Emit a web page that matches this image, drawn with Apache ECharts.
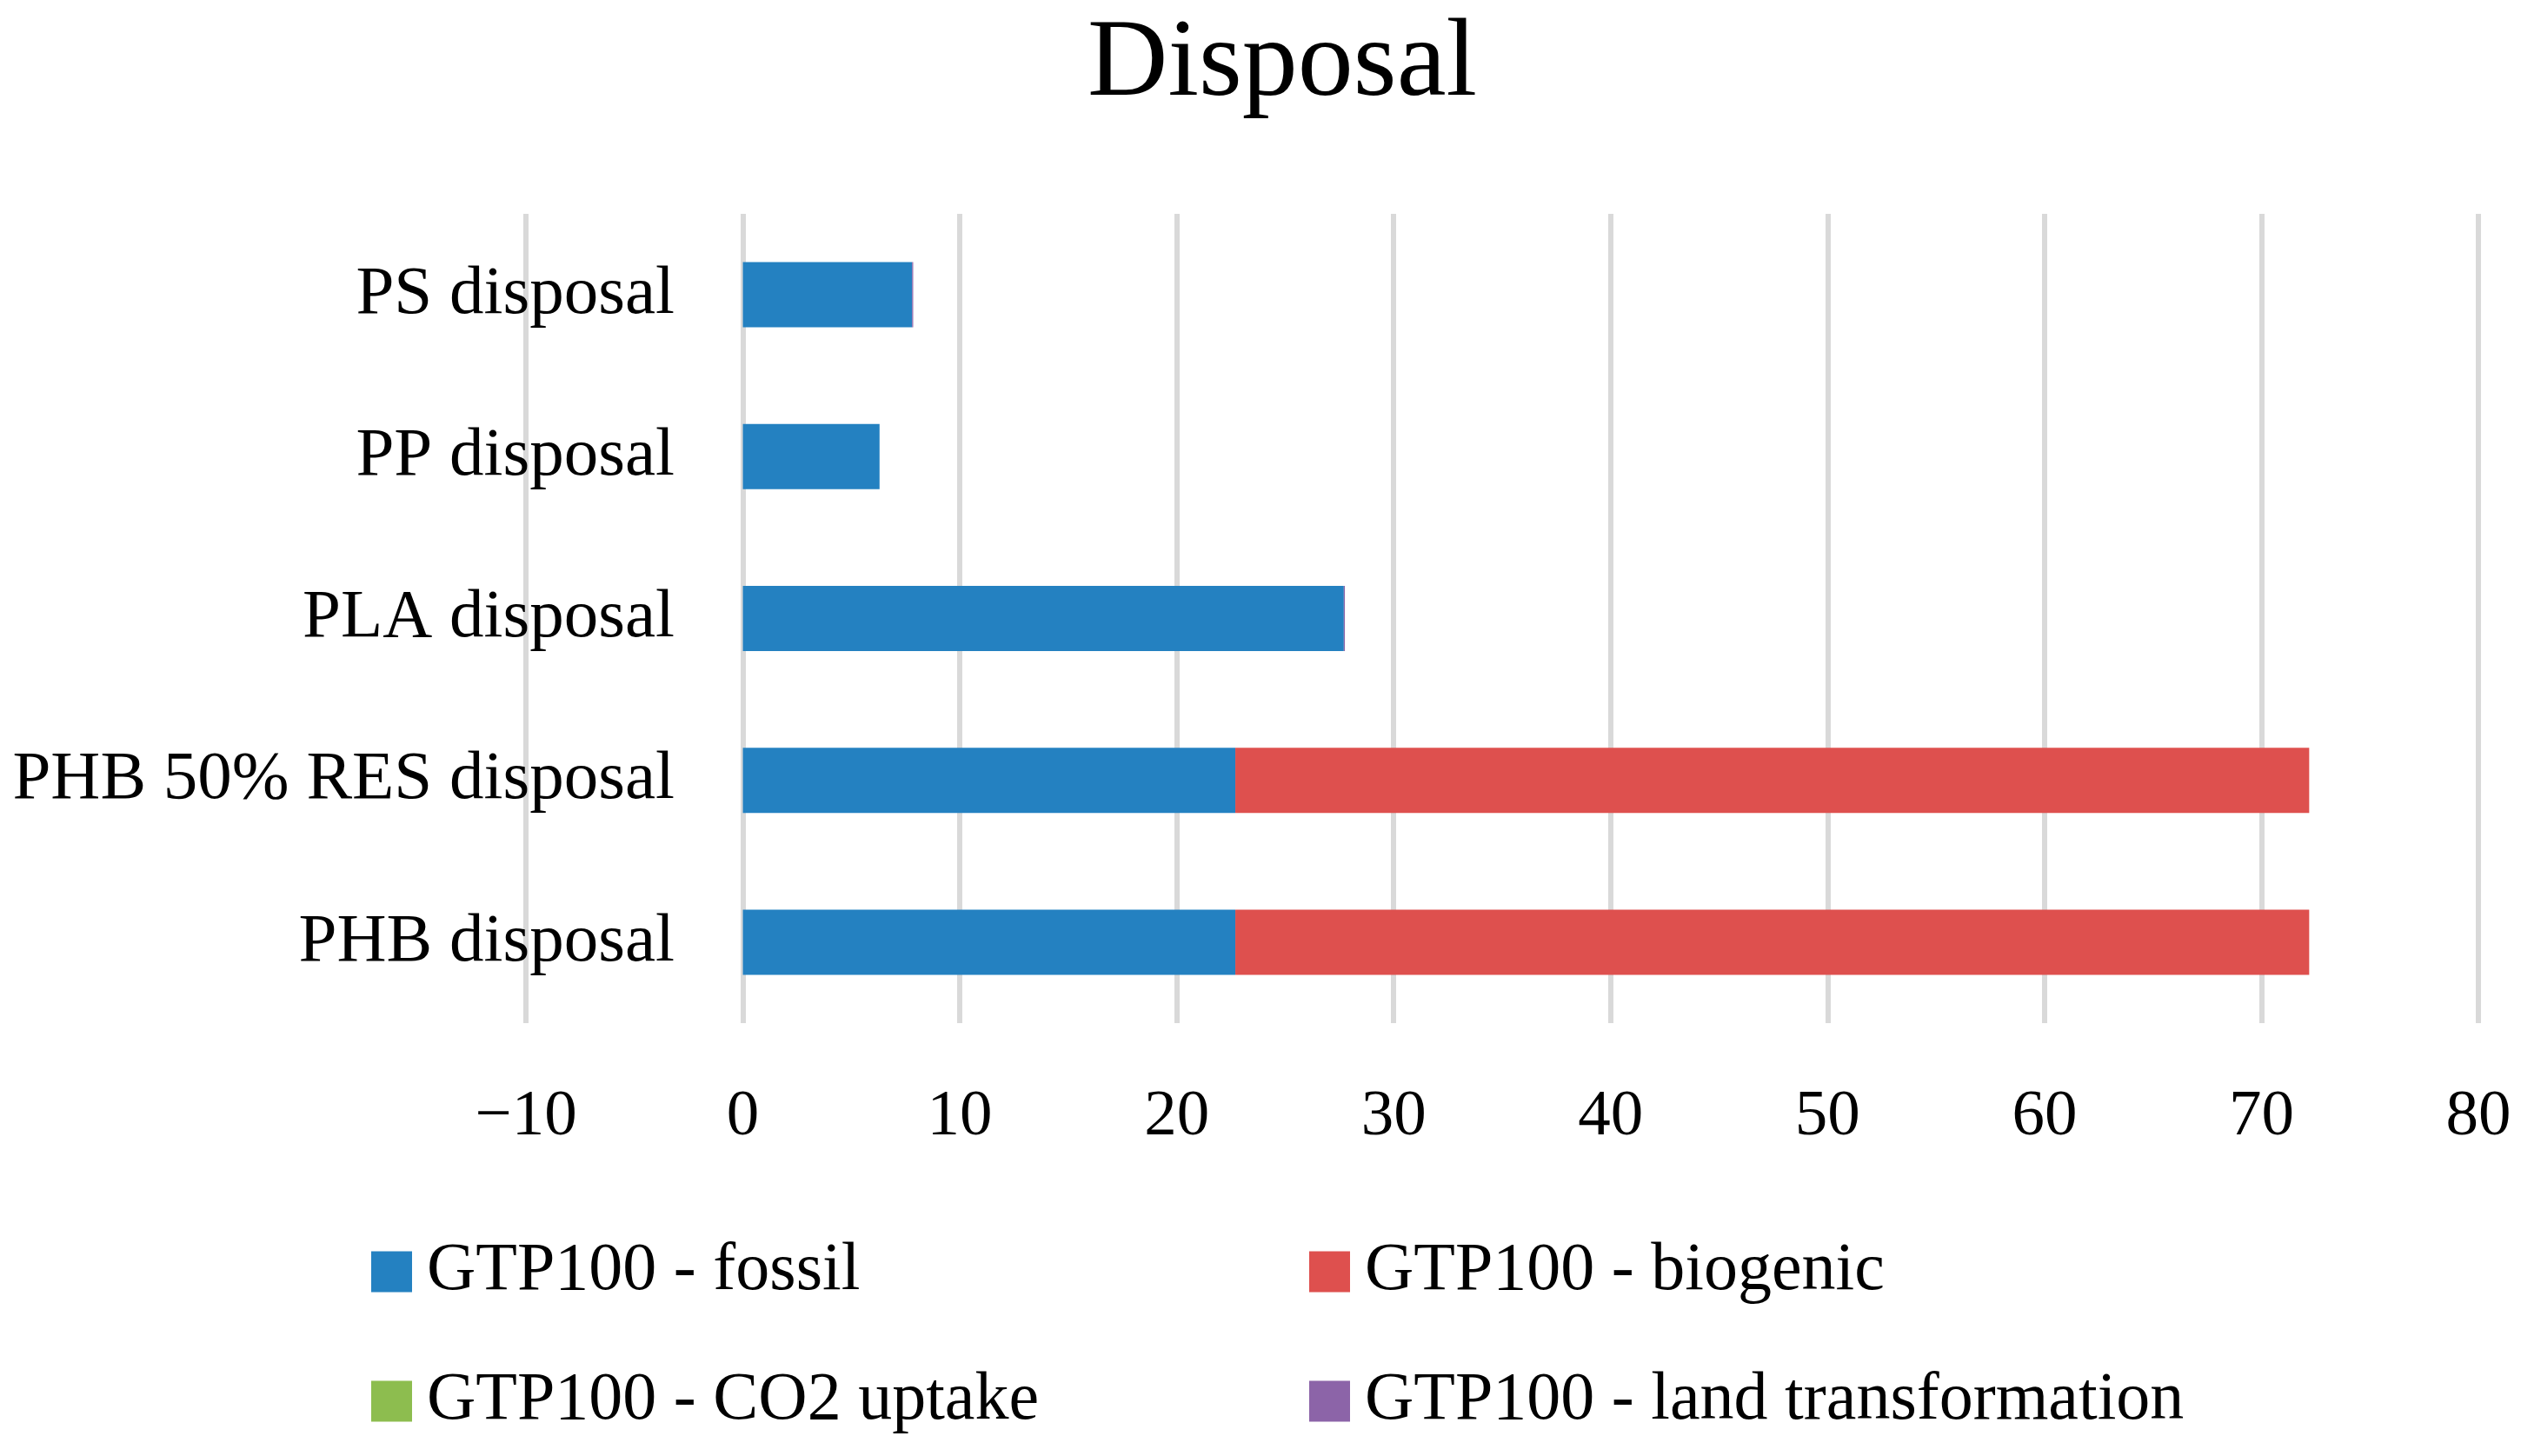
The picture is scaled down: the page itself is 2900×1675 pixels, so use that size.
<!DOCTYPE html>
<html>
<head>
<meta charset="utf-8">
<script src="https://cdn.jsdelivr.net/npm/echarts@6/dist/echarts.min.js"></script>
<style>html,body{margin:0;padding:0;background:#fff;}#c{width:2900px;height:1675px;}</style>
</head>
<body>
<div id="c"></div>
<script>
const categories = ['PHB disposal', 'PHB 50% RES disposal', 'PLA disposal', 'PP disposal', 'PS disposal'];
const fossil = [22.7, 22.7, 27.7, 6.3, 7.8];
const biogenic = [49.5, 49.5, 0, 0, 0];
const co2Uptake = [0, 0, 0, 0, 0];
const landTransformation = [0, 0, 0.05, 0, 0.05];
const seriesNames = ['GTP100 - fossil', 'GTP100 - biogenic', 'GTP100 - CO2 uptake', 'GTP100 - land transformation'];
const colors = ['#2481C1', '#DE504E', '#8DBD4F', '#8C64A8'];
const xMin = -10, xMax = 80, xStep = 10;

const font = '"Liberation Serif", "DejaVu Serif", serif';
const chart = echarts.init(document.getElementById('c'), null, {renderer: 'canvas'});
const values = [fossil, biogenic, co2Uptake, landTransformation];
// legend placement: [left, top] per series (2 columns x 2 rows)
const legendPos = [[427, 1424], [1506, 1424], [427, 1573], [1506, 1573]];
chart.setOption({
  animation: false,
  backgroundColor: '#ffffff',
  title: {
    text: 'Disposal',
    left: 1470,
    textAlign: 'center',
    top: 6,
    textStyle: {fontFamily: font, fontSize: 128, fontWeight: 'normal', color: '#000'}
  },
  legend: seriesNames.map((name, i) => ({
    data: [name],
    orient: 'horizontal',
    left: legendPos[i][0], top: legendPos[i][1],
    padding: 0,
    itemWidth: 47, itemHeight: 47,
    icon: 'rect',
    selectedMode: false,
    textStyle: {fontFamily: font, fontSize: 78, color: '#000', lineHeight: 60, padding: [0, 0, 0, 12]}
  })),
  grid: {left: 605, right: 49, top: 246, bottom: 498, containLabel: false, outerBoundsMode: 'none'},
  xAxis: {
    type: 'value',
    min: xMin, max: xMax, interval: xStep,
    axisLine: {show: false},
    axisTick: {show: false},
    splitLine: {show: true, lineStyle: {color: '#D9D9D9', width: 6}},
    axisLabel: {
      margin: 71,
      fontFamily: font, fontSize: 75, color: '#000',
      formatter: v => v < 0 ? '\u2212' + Math.abs(v) : String(v)
    }
  },
  yAxis: {
    type: 'category',
    data: categories,
    offset: -250,
    axisLine: {show: false, onZero: false},
    axisTick: {show: false},
    splitLine: {show: false},
    axisLabel: {margin: 79, fontFamily: font, fontSize: 79, color: '#000'}
  },
  series: seriesNames.map((name, i) => ({
    name: name,
    type: 'bar',
    stack: 'total',
    barWidth: 75,
    data: values[i],
    itemStyle: {color: colors[i]}
  }))
});
</script>
</body>
</html>
